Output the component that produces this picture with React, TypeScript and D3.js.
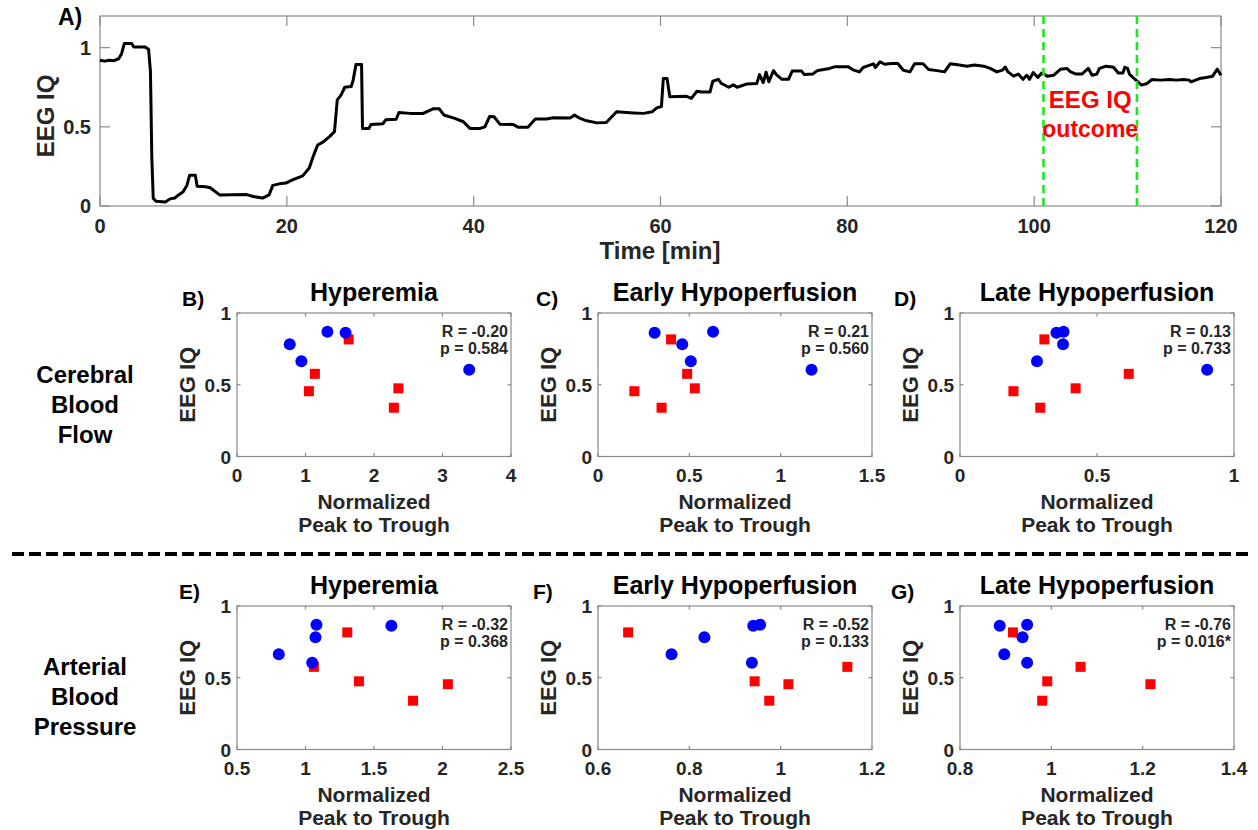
import React from 'react';
import * as d3 from 'd3';

// ---------- Panel A: EEG IQ time course ----------
const timeMin = [
  0, 0.5, 1.0, 1.5, 2.0, 2.3, 2.6, 3.4, 3.6, 4.8, 5.2, 5.4, 5.55, 5.7, 6.0, 7.0, 7.5, 8.0, 8.3, 8.9,
  9.3, 9.6, 10.2, 10.4, 11.3, 11.8, 12.8, 15.7, 16.4, 17.4, 18.1, 18.5, 19.2, 19.9, 20.6, 21.7, 22.4, 22.8, 23.3, 23.9,
  24.6, 25.1, 25.4, 25.8, 26.2, 26.9, 27.1, 27.4, 28.0, 28.1, 28.8, 29.0, 30.3, 30.6, 31.7, 32.0, 33.2, 34.6, 35.7, 36.3,
  36.8, 37.9, 38.9, 39.6, 40.7, 41.2, 41.7, 42.2, 42.8, 44.2, 44.8, 45.8, 46.6, 47.8, 48.5, 50.3, 50.8, 51.4, 52.1, 53.2,
  54.2, 55.3, 57.1, 58.2, 59.1, 59.6, 60.1, 60.3, 60.7, 61.0, 62.8, 63.3, 63.9, 64.4, 65.3, 65.6, 66.2, 66.5, 67.3, 67.8,
  68.2, 69.2, 70.3, 70.6, 71.0, 71.3, 71.6, 72.1, 72.4, 73.0, 73.7, 74.1, 75.1, 75.4, 76.3, 76.7, 77.0, 78.1, 78.7, 80.1,
  80.6, 81.3, 81.7, 82.1, 82.8, 83.0, 83.5, 84.0, 84.7, 85.4, 86.0, 86.7, 87.2, 88.1, 88.7, 89.6, 90.4, 91.0, 92.0, 92.8,
  93.6, 94.6, 95.3, 96.0, 96.6, 96.9, 97.2, 97.8, 98.3, 98.8, 99.2, 99.5, 99.9, 100.4, 100.8, 101.4, 102.1, 102.8, 103.5, 103.9,
  104.5, 105.1, 105.8, 106.2, 106.7, 107.0, 107.7, 108.5, 109.0, 109.5, 109.7, 110.0, 110.2, 110.8, 111.5, 112.1, 112.6, 113.5, 114.5, 115.2,
  116.0, 116.6, 116.8, 117.7, 118.4, 119.1, 119.6, 120.0,
];
const eegIQ = [
  0.921, 0.915, 0.92, 0.918, 0.93, 0.96, 1.026, 1.026, 1.005, 1.005, 0.99, 0.85, 0.30, 0.048, 0.03, 0.025, 0.045, 0.05, 0.065, 0.09,
  0.13, 0.195, 0.195, 0.125, 0.122, 0.115, 0.07, 0.072, 0.06, 0.05, 0.07, 0.13, 0.14, 0.145, 0.165, 0.19, 0.24, 0.31, 0.385, 0.405,
  0.44, 0.47, 0.67, 0.70, 0.75, 0.755, 0.795, 0.894, 0.894, 0.49, 0.49, 0.515, 0.52, 0.545, 0.548, 0.59, 0.585, 0.585, 0.615, 0.615,
  0.575, 0.555, 0.532, 0.49, 0.49, 0.50, 0.565, 0.563, 0.517, 0.515, 0.497, 0.497, 0.549, 0.549, 0.557, 0.556, 0.574, 0.553, 0.538, 0.525,
  0.527, 0.595, 0.588, 0.585, 0.595, 0.62, 0.628, 0.805, 0.805, 0.69, 0.693, 0.68, 0.725, 0.72, 0.72, 0.788, 0.80, 0.775, 0.75, 0.765,
  0.75, 0.77, 0.773, 0.83, 0.78, 0.845, 0.785, 0.855, 0.83, 0.80, 0.80, 0.852, 0.852, 0.83, 0.833, 0.852, 0.858, 0.869, 0.88, 0.88,
  0.86, 0.847, 0.875, 0.883, 0.898, 0.875, 0.911, 0.895, 0.90, 0.90, 0.857, 0.847, 0.898, 0.898, 0.862, 0.855, 0.847, 0.898, 0.89, 0.883,
  0.89, 0.883, 0.869, 0.847, 0.858, 0.878, 0.847, 0.82, 0.833, 0.80, 0.826, 0.80, 0.843, 0.812, 0.84, 0.82, 0.826, 0.863, 0.869, 0.847,
  0.833, 0.833, 0.869, 0.826, 0.833, 0.869, 0.883, 0.876, 0.84, 0.84, 0.876, 0.869, 0.833, 0.799, 0.763, 0.774, 0.799, 0.795, 0.799, 0.795,
  0.799, 0.795, 0.784, 0.805, 0.812, 0.82, 0.864, 0.826,
];
const outcomeWindow = [101, 111];
const timeTicks = [0, 20, 40, 60, 80, 100, 120];
const iqTicks = [0, 0.5, 1];

// ---------- Scatter panels ----------
const panelLetters = ['B)', 'C)', 'D)', 'E)', 'F)', 'G)'];
const panelTitles = ['Hyperemia', 'Early Hypoperfusion', 'Late Hypoperfusion', 'Hyperemia', 'Early Hypoperfusion', 'Late Hypoperfusion'];
const rValues = ['-0.20', '0.21', '0.13', '-0.32', '-0.52', '-0.76'];
const pValues = ['0.584', '0.560', '0.733', '0.368', '0.133', '0.016*'];
const xDomains = [[0, 4], [0, 1.5], [0, 1], [0.5, 2.5], [0.6, 1.2], [0.8, 1.4]];
const xTickSets = [[0, 1, 2, 3, 4], [0, 0.5, 1, 1.5], [0, 0.5, 1], [0.5, 1, 1.5, 2, 2.5], [0.6, 0.8, 1, 1.2], [0.8, 1, 1.2, 1.4]];

// EEG IQ outcome per subject (same in every panel)
const blueIQ = [0.870, 0.862, 0.782, 0.664, 0.605];
const redIQ = [0.816, 0.576, 0.475, 0.455, 0.340];

// Normalized peak to trough per panel
const blueB = [1.32, 1.585, 0.77, 0.94, 3.39];
const redB = [1.63, 1.137, 2.356, 1.05, 2.29];
const blueC = [0.63, 0.31, 0.461, 0.508, 1.169];
const redC = [0.40, 0.488, 0.53, 0.199, 0.348];
const blueD = [0.378, 0.352, 0.376, 0.281, 0.902];
const redD = [0.308, 0.616, 0.422, 0.195, 0.293];
const blueE = [1.08, 1.627, 1.073, 0.805, 1.049];
const redE = [1.305, 1.061, 1.39, 2.039, 1.785];
const blueF = [0.955, 0.940, 0.833, 0.761, 0.937];
const redF = [0.666, 1.146, 0.943, 1.017, 0.975];
const blueG = [0.947, 0.887, 0.937, 0.897, 0.947];
const redG = [0.916, 1.064, 0.991, 1.217, 0.980];

const bluePanels = [blueB, blueC, blueD, blueE, blueF, blueG];
const redPanels = [redB, redC, redD, redE, redF, redG];

const rowLabels = [['Cerebral', 'Blood', 'Flow'], ['Arterial', 'Blood', 'Pressure']];

const FONT = '"Liberation Sans", Arial, Helvetica, sans-serif';
const AXIS = '#8a8a8a';
const TXT = '#262626';

function fmt(v: number) {
  return String(+v.toFixed(2));
}

function PanelA() {
  const L = 100, R = 1221, T = 16, B = 206;
  const x = d3.scaleLinear().domain([0, 120]).range([L, R]);
  const y = d3.scaleLinear().domain([0, 1.2]).range([B, T]);
  const pts: [number, number][] = timeMin.map((t, i) => [t, eegIQ[i]]);
  const line = d3.line<[number, number]>().x(d => x(d[0])).y(d => y(d[1]));
  const tl = 10;
  return (
    <g>
      <rect x={L} y={T} width={R - L} height={B - T} fill="white" stroke={AXIS} strokeWidth={1.2} />
      {timeTicks.map(t => (
        <g key={'xt' + t}>
          <line x1={x(t)} x2={x(t)} y1={B} y2={B - tl} stroke={AXIS} strokeWidth={1.2} />
          <line x1={x(t)} x2={x(t)} y1={T} y2={T + tl} stroke={AXIS} strokeWidth={1.2} />
          <text x={x(t)} y={B + 27} textAnchor="middle" fontSize={20} fontWeight="bold" fill={TXT}>{t}</text>
        </g>
      ))}
      {iqTicks.map(v => (
        <g key={'yt' + v}>
          <line x1={L} x2={L + tl} y1={y(v)} y2={y(v)} stroke={AXIS} strokeWidth={1.2} />
          <line x1={R} x2={R - tl} y1={y(v)} y2={y(v)} stroke={AXIS} strokeWidth={1.2} />
          <text x={L - 9} y={y(v) + 7} textAnchor="end" fontSize={20} fontWeight="bold" fill={TXT}>{fmt(v)}</text>
        </g>
      ))}
      <path d={line(pts) || ''} fill="none" stroke="black" strokeWidth={3} strokeLinejoin="round" />
      {outcomeWindow.map(t => (
        <line key={'ow' + t} x1={x(t)} x2={x(t)} y1={T} y2={B} stroke="#1ee81e" strokeWidth={2.6} strokeDasharray="8,5" />
      ))}
      <text x={(x(outcomeWindow[0]) + x(outcomeWindow[1])) / 2} y={108} textAnchor="middle" fontSize={24} fontWeight="bold" fill="#ff0000">EEG IQ</text>
      <text x={(x(outcomeWindow[0]) + x(outcomeWindow[1])) / 2} y={137} textAnchor="middle" fontSize={23} fontWeight="bold" fill="#ff0000">outcome</text>
      <text x={660} y={259} textAnchor="middle" fontSize={24} fontWeight="bold" fill={TXT}>Time [min]</text>
      <text transform={`translate(54,${(T + B) / 2 + 5}) rotate(-90)`} textAnchor="middle" fontSize={24} fontWeight="bold" fill={TXT}>EEG IQ</text>
      <text x={58} y={25} fontSize={23} fontWeight="bold" fill="black">A)</text>
    </g>
  );
}

function Scatter({ idx }: { idx: number }) {
  const col = idx % 3;
  const row = Math.floor(idx / 3);
  const lefts = [237, 598, 960];
  const tops = [313, 606];
  const W = 274, H = 143.5;
  const L = lefts[col], T = tops[row], R = L + W, B = T + H;
  const x = d3.scaleLinear().domain(xDomains[idx]).range([L, R]);
  const y = d3.scaleLinear().domain([0, 1]).range([B, T]);
  const tl = 3.5;
  const letterOff = [55, 62, 66][col] + (row === 1 ? 3 : 0);
  return (
    <g>
      <rect x={L} y={T} width={W} height={H} fill="white" stroke={AXIS} strokeWidth={1.2} />
      {xTickSets[idx].map(t => (
        <g key={'xt' + t}>
          <line x1={x(t)} x2={x(t)} y1={B} y2={B - tl} stroke={AXIS} strokeWidth={1.2} />
          <line x1={x(t)} x2={x(t)} y1={T} y2={T + tl} stroke={AXIS} strokeWidth={1.2} />
          <text x={x(t)} y={B + 25} textAnchor="middle" fontSize={19} fontWeight="bold" fill={TXT}>{fmt(t)}</text>
        </g>
      ))}
      {iqTicks.map(v => (
        <g key={'yt' + v}>
          <line x1={L} x2={L + tl} y1={y(v)} y2={y(v)} stroke={AXIS} strokeWidth={1.2} />
          <line x1={R} x2={R - tl} y1={y(v)} y2={y(v)} stroke={AXIS} strokeWidth={1.2} />
          <text x={L - 6} y={y(v) + 7} textAnchor="end" fontSize={19} fontWeight="bold" fill={TXT}>{fmt(v)}</text>
        </g>
      ))}
      {redPanels[idx].map((v, i) => (
        <rect key={'r' + i} x={x(v) - 5} y={y(redIQ[i]) - 5} width={10} height={10} fill="#ff0000" />
      ))}
      {bluePanels[idx].map((v, i) => (
        <circle key={'b' + i} cx={x(v)} cy={y(blueIQ[i])} r={6} fill="#0000ff" />
      ))}
      <text x={R - 3} y={T + 24} textAnchor="end" fontSize={16} fontWeight="bold" fill={TXT}>{`R = ${rValues[idx]}`}</text>
      <text x={R - 3} y={T + 41} textAnchor="end" fontSize={16} fontWeight="bold" fill={TXT}>{`p = ${pValues[idx]}`}</text>
      <text x={(L + R) / 2} y={T - 12} textAnchor="middle" fontSize={25} fontWeight="bold" fill="black">{panelTitles[idx]}</text>
      <text x={L - letterOff} y={T - 7} fontSize={21} fontWeight="bold" fill="black">{panelLetters[idx]}</text>
      <text transform={`translate(${L - 42},${(T + B) / 2}) rotate(-90)`} textAnchor="middle" fontSize={22} fontWeight="bold" fill={TXT}>EEG IQ</text>
      <text x={(L + R) / 2} y={B + 52} textAnchor="middle" fontSize={21} fontWeight="bold" fill={TXT}>Normalized</text>
      <text x={(L + R) / 2} y={B + 75} textAnchor="middle" fontSize={21} fontWeight="bold" fill={TXT}>Peak to Trough</text>
    </g>
  );
}

export default function App() {
  return (
    <svg width={1258} height={830} style={{ position: 'absolute', left: 0, top: 0, background: 'white' }} fontFamily={FONT}>
      <rect x={0} y={0} width={1258} height={830} fill="white" />
      <PanelA />
      {[0, 1, 2, 3, 4, 5].map(i => <Scatter key={i} idx={i} />)}
      {rowLabels.map((lines, r) => (
        <g key={'rl' + r}>
          {lines.map((s, j) => (
            <text key={s + j} x={85} y={[383, 675][r] + j * 30} textAnchor="middle" fontSize={24} fontWeight="bold" fill="black">{s}</text>
          ))}
        </g>
      ))}
      <line x1={12} x2={1252} y1={554} y2={554} stroke="black" strokeWidth={4} strokeDasharray="12,5" />
    </svg>
  );
}
